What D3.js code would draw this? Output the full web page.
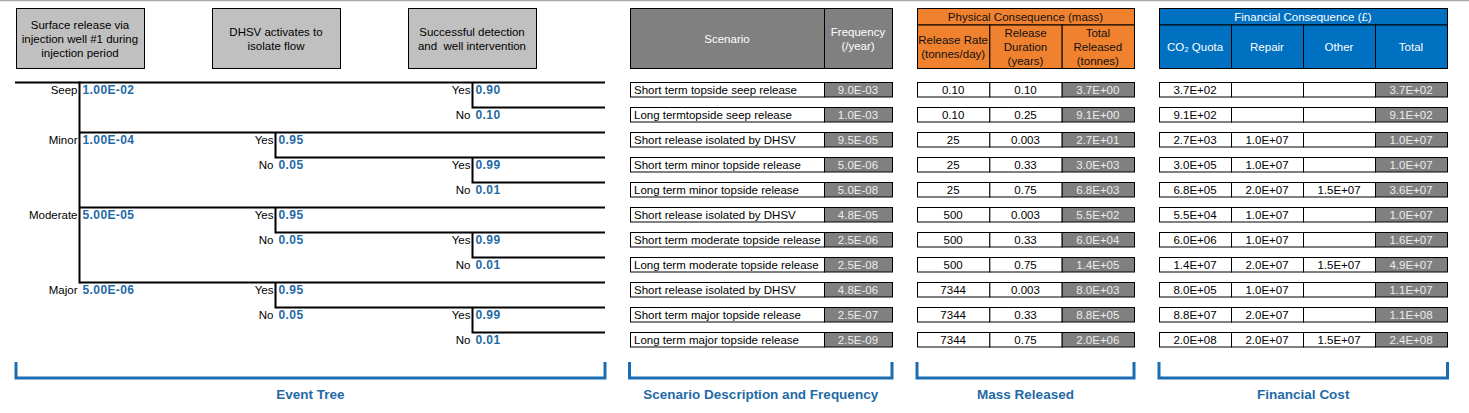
<!DOCTYPE html>
<html>
<head>
<meta charset="utf-8">
<script src="https://cdn.jsdelivr.net/npm/d3@7"></script>
<style>
  body { margin: 0; background: #fff; }
  text { font-family: "Liberation Sans", Arial, sans-serif; white-space: pre; }
</style>
</head>
<body>
<div id="chart"></div>
<script>
// ---- event tree data ----
const stageTitles = [
  ["Surface release via", "injection well #1 during", "injection period"],
  ["DHSV activates to", "isolate flow"],
  ["Successful detection", "and  well intervention"],
];
const initiators = ["Seep", "Minor", "Moderate", "Major"];
const initiatorFreq = ["1.00E-02", "1.00E-04", "5.00E-05", "5.00E-06"];
const dhsvYes = [null, "0.95", "0.95", "0.95"];
const dhsvNo = [null, "0.05", "0.05", "0.05"];
const detectYes = ["0.90", "0.99", "0.99", "0.99"];
const detectNo = ["0.10", "0.01", "0.01", "0.01"];

// ---- outcome table data ----
const scenarios = [
  "Short term topside seep release",
  "Long termtopside seep release",
  "Short release isolated by DHSV",
  "Short term minor topside release",
  "Long term minor topside release",
  "Short release isolated by DHSV",
  "Short term moderate topside release",
  "Long term moderate topside release",
  "Short release isolated by DHSV",
  "Short term major topside release",
  "Long term major topside release",
];
const frequency = ["9.0E-03", "1.0E-03", "9.5E-05", "5.0E-06", "5.0E-08", "4.8E-05", "2.5E-06", "2.5E-08", "4.8E-06", "2.5E-07", "2.5E-09"];
const releaseRate = ["0.10", "0.10", "25", "25", "25", "500", "500", "500", "7344", "7344", "7344"];
const releaseDuration = ["0.10", "0.25", "0.003", "0.33", "0.75", "0.003", "0.33", "0.75", "0.003", "0.33", "0.75"];
const totalReleased = ["3.7E+00", "9.1E+00", "2.7E+01", "3.0E+03", "6.8E+03", "5.5E+02", "6.0E+04", "1.4E+05", "8.0E+03", "8.8E+05", "2.0E+06"];
const co2Quota = ["3.7E+02", "9.1E+02", "2.7E+03", "3.0E+05", "6.8E+05", "5.5E+04", "6.0E+06", "1.4E+07", "8.0E+05", "8.8E+07", "2.0E+08"];
const repair = ["", "", "1.0E+07", "1.0E+07", "2.0E+07", "1.0E+07", "1.0E+07", "2.0E+07", "1.0E+07", "2.0E+07", "2.0E+07"];
const other = ["", "", "", "", "1.5E+07", "", "", "1.5E+07", "", "", "1.5E+07"];
const totalCost = ["3.7E+02", "9.1E+02", "1.0E+07", "1.0E+07", "3.6E+07", "1.0E+07", "1.6E+07", "4.9E+07", "1.1E+07", "1.1E+08", "2.4E+08"];

const physicalHeaders = [["Release Rate", "(tonnes/day)"], ["Release", "Duration", "(years)"], ["Total", "Released", "(tonnes)"]];
const financialHeaders = ["CO₂ Quota", "Repair", "Other", "Total"];
const sectionLabels = ["Event Tree", "Scenario Description and Frequency", "Mass Released", "Financial Cost"];

// ---- layout ----
const width = 1469, height = 413;
const C = {
  gray: "#808080", box: "#c0c0c0", orange: "#f0822f", blue: "#0070c0",
  label: "#1f6aa6", bracket: "#1b6db1", cellText: "#ececec",
};

const svg = d3.select("#chart").append("svg")
  .attr("width", width).attr("height", height)
  .attr("viewBox", `0 0 ${width} ${height}`);

svg.append("rect").attr("width", width).attr("height", height).attr("fill", "#fff");
svg.append("line").attr("x1", 0).attr("x2", width).attr("y1", 0.5).attr("y2", 0.5)
  .attr("stroke", "#a8a8a8").attr("stroke-width", 1.5);

const rowY = d3.scaleLinear().domain([0, scenarios.length]).range([82.5, 82.5 + 25 * scenarios.length]);
const rowMid = (i) => rowY(i) + 7.5;

// stage columns of the tree
const stageX = d3.scaleOrdinal().domain(["init", "dhsv", "detect", "end"]).range([79.5, 275.5, 472.5, 605]);
const stageBoxX = [16, 212, 408];
const stageBoxW = 128;

// header boxes of the tree
stageTitles.forEach((lines, i) => {
  const g = svg.append("g");
  g.append("rect").attr("x", stageBoxX[i] + 0.5).attr("y", 8.5).attr("width", stageBoxW).attr("height", 60)
    .attr("fill", C.box).attr("stroke", "#000");
  lines.forEach((t, k) => {
    g.append("text").attr("x", stageBoxX[i] + stageBoxW / 2).attr("y", 38.5 + (k - (lines.length - 1) / 2) * 14)
      .attr("text-anchor", "middle").attr("dominant-baseline", "central")
      .attr("font-size", 11.5).attr("fill", "#000").text(t);
  });
});

// build the tree branches from the data
const tree = svg.append("g").attr("stroke", "#000").attr("stroke-width", 2).attr("fill", "none");
const labels = svg.append("g");
const branchLabel = (x, y, name, value) => {
  if (name) labels.append("text").attr("x", x - 2).attr("y", y).attr("text-anchor", "end")
    .attr("dominant-baseline", "central").attr("font-size", 11.5).attr("fill", "#000").text(name);
  labels.append("text").attr("x", x + 3).attr("y", y).attr("dominant-baseline", "central")
    .attr("font-size", 12).attr("font-weight", "bold").attr("letter-spacing", 0.4)
    .attr("fill", C.label).text(value);
};

let row = 0;
const initRows = [];
initiators.forEach((name, i) => {
  const r0 = row;
  initRows.push(r0);
  const xEnd = stageX("end");
  tree.append("line").attr("x1", i === 0 ? 15 : stageX("init")).attr("x2", xEnd)
    .attr("y1", rowY(r0)).attr("y2", rowY(r0));
  branchLabel(stageX("init"), rowMid(r0), name, initiatorFreq[i]);

  let rd = r0;
  if (dhsvYes[i]) {
    const xd = stageX("dhsv");
    tree.append("path").attr("d", `M${xd},${rowY(r0)}V${rowY(r0 + 1)}H${xEnd}`);
    branchLabel(xd, rowMid(r0), "Yes", dhsvYes[i]);
    branchLabel(xd, rowMid(r0 + 1), "No", dhsvNo[i]);
    rd = r0 + 1;
  }
  const xt = stageX("detect");
  tree.append("path").attr("d", `M${xt},${rowY(rd)}V${rowY(rd + 1)}H${xEnd}`);
  branchLabel(xt, rowMid(rd), "Yes", detectYes[i]);
  branchLabel(xt, rowMid(rd + 1), "No", detectNo[i]);
  row = rd + 2;
});
tree.append("line").attr("x1", stageX("init")).attr("x2", stageX("init"))
  .attr("y1", rowY(0) - 1).attr("y2", rowY(initRows[initRows.length - 1]) + 1);

// ---- tables ----
const cell = (g, x, y, w, h, fill, txt, color, anchor) => {
  g.append("rect").attr("x", x + 0.5).attr("y", y).attr("width", w).attr("height", h)
    .attr("fill", fill).attr("stroke", "#000");
  if (txt === "" || txt == null) return;
  const left = anchor === "start";
  g.append("text").attr("x", left ? x + 4 : x + w / 2).attr("y", y + h / 2 + 0.5)
    .attr("text-anchor", left ? "start" : "middle").attr("dominant-baseline", "central")
    .attr("font-size", 11.5).attr("fill", color).text(txt);
};
const multi = (g, x, yc, lines, color) => {
  lines.forEach((t, k) => {
    g.append("text").attr("x", x).attr("y", yc + (k - (lines.length - 1) / 2) * 14)
      .attr("text-anchor", "middle").attr("dominant-baseline", "central")
      .attr("font-size", 11.5).attr("fill", color).text(t);
  });
};

// scenario + frequency
const scen = svg.append("g");
const scenCols = [630, 824, 892];
scen.append("rect").attr("x", scenCols[0] + 0.5).attr("y", 8.5).attr("width", scenCols[1] - scenCols[0]).attr("height", 60)
  .attr("fill", C.gray).attr("stroke", "#000");
scen.append("rect").attr("x", scenCols[1] + 0.5).attr("y", 8.5).attr("width", scenCols[2] - scenCols[1]).attr("height", 60)
  .attr("fill", C.gray).attr("stroke", "#000");
multi(scen, (scenCols[0] + scenCols[1]) / 2, 38.5, ["Scenario"], "#fff");
multi(scen, (scenCols[1] + scenCols[2]) / 2, 38.5, ["Frequency", "(/year)"], "#fff");
scenarios.forEach((s, i) => {
  cell(scen, scenCols[0], rowY(i), scenCols[1] - scenCols[0], 14.5, "#fff", s, "#000", "start");
  cell(scen, scenCols[1], rowY(i), scenCols[2] - scenCols[1], 14.5, C.gray, frequency[i], C.cellText);
});

// physical consequence
const phys = svg.append("g");
const physX = d3.scaleBand().domain(d3.range(3)).range([917, 1134]);
phys.append("rect").attr("x", 917.5).attr("y", 8.5).attr("width", 1134 - 917).attr("height", 16.5)
  .attr("fill", C.orange).attr("stroke", "#000");
multi(phys, (917 + 1134) / 2, 17, ["Physical Consequence (mass)"], "#111");
physicalHeaders.forEach((lines, j) => {
  phys.append("rect").attr("x", physX(j) + 0.5).attr("y", 25).attr("width", physX.bandwidth()).attr("height", 43.5)
    .attr("fill", C.orange).attr("stroke", "#000");
  multi(phys, physX(j) + physX.bandwidth() / 2, 47, lines, "#111");
});
const physCols = [releaseRate, releaseDuration, totalReleased];
scenarios.forEach((s, i) => {
  physCols.forEach((col, j) => {
    const last = j === physCols.length - 1;
    cell(phys, physX(j), rowY(i), physX.bandwidth(), 14.5, last ? C.gray : "#fff", col[i], last ? C.cellText : "#000");
  });
});

// financial consequence
const fin = svg.append("g");
const finX = d3.scaleBand().domain(d3.range(4)).range([1159, 1447]);
fin.append("rect").attr("x", 1159.5).attr("y", 8.5).attr("width", 1447 - 1159).attr("height", 16.5)
  .attr("fill", C.blue).attr("stroke", "#000");
multi(fin, (1159 + 1447) / 2, 17, ["Financial Consequence (£)"], "#fff");
financialHeaders.forEach((t, j) => {
  fin.append("rect").attr("x", finX(j) + 0.5).attr("y", 25).attr("width", finX.bandwidth()).attr("height", 43.5)
    .attr("fill", C.blue).attr("stroke", "#000");
  multi(fin, finX(j) + finX.bandwidth() / 2, 47, [t], "#fff");
});
const finCols = [co2Quota, repair, other, totalCost];
scenarios.forEach((s, i) => {
  finCols.forEach((col, j) => {
    const last = j === finCols.length - 1;
    cell(fin, finX(j), rowY(i), finX.bandwidth(), 14.5, last ? C.gray : "#fff", col[i], last ? C.cellText : "#000");
  });
});

// ---- section brackets ----
const sectionSpans = [[16, 605], [629.5, 892], [917, 1134], [1159, 1447.5]];
sectionLabels.forEach((name, i) => {
  const [x0, x1] = sectionSpans[i];
  svg.append("path").attr("d", `M${x0},362V378H${x1}V362`)
    .attr("fill", "none").attr("stroke", C.bracket).attr("stroke-width", 3);
  svg.append("text").attr("x", (x0 + x1) / 2).attr("y", 394.5).attr("text-anchor", "middle")
    .attr("dominant-baseline", "central").attr("font-size", 13.5).attr("font-weight", "bold")
    .attr("fill", C.label).text(name);
});
</script>
</body>
</html>
